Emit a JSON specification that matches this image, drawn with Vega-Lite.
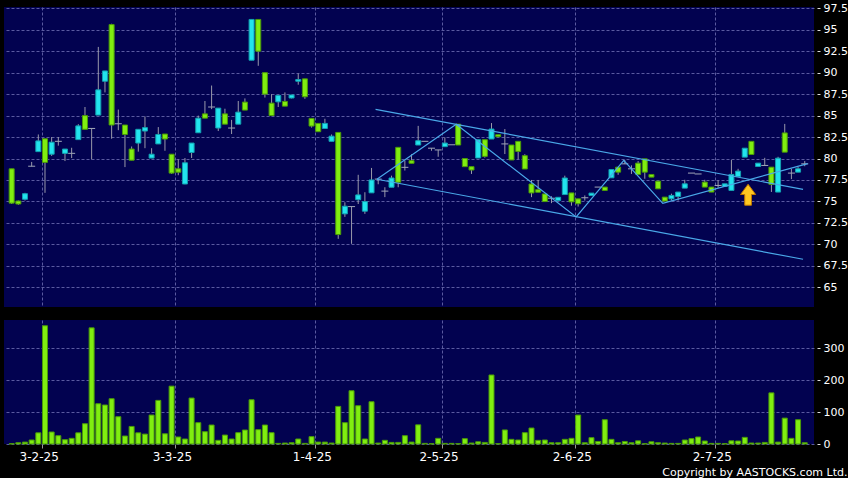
{
"$schema": "https://vega.github.io/schema/vega-lite/v6.json",
"background": "#000000",
"padding": {"left": 4, "top": 2, "right": 0, "bottom": 0},
"spacing": 13,
"config": {
  "view": {"fill": "#020250", "stroke": null},
  "font": "DejaVu Sans",
  "axis": {"labelFont": "DejaVu Sans", "labelColor": "#ffffff", "gridColor": "#5a5aa0", "gridDash": [3, 2], "gridWidth": 1, "domain": false, "labelOverlap": false}
},
"title": {"text": "Copyright by AASTOCKS.com Ltd.", "orient": "bottom", "anchor": "end", "fontSize": 11, "fontWeight": "normal", "color": "#ffffff", "font": "DejaVu Sans", "offset": 5},
"datasets": {
"px": [
{"i":0,"d":"2025-01-22","o":78.8,"h":78.8,"l":74.7,"c":74.8,"v":1},
{"i":1,"d":"2025-01-23","o":75.05,"h":75.1,"l":74.6,"c":74.7,"v":4},
{"i":2,"d":"2025-01-24","o":75.25,"h":76.0,"l":75.1,"c":75.9,"v":6},
{"i":3,"d":"2025-01-27","o":79.1,"h":79.6,"l":79.1,"c":79.1,"v":12.5},
{"i":4,"d":"2025-01-28","o":80.8,"h":82.8,"l":80.8,"c":82.05,"v":35},
{"i":5,"d":"2025-02-03","o":82.3,"h":82.3,"l":76.0,"c":79.55,"v":370},
{"i":6,"d":"2025-02-04","o":80.5,"h":82.5,"l":80.3,"c":81.9,"v":37.5},
{"i":7,"d":"2025-02-05","o":82.0,"h":82.5,"l":81.5,"c":82.0,"v":26},
{"i":8,"d":"2025-02-06","o":80.6,"h":81.1,"l":79.7,"c":81.1,"v":13.5},
{"i":9,"d":"2025-02-07","o":80.6,"h":81.25,"l":80.05,"c":80.6,"v":17.7},
{"i":10,"d":"2025-02-10","o":82.2,"h":84.0,"l":82.2,"c":83.8,"v":35},
{"i":11,"d":"2025-02-11","o":85.0,"h":86.0,"l":83.4,"c":83.4,"v":63.5},
{"i":12,"d":"2025-02-12","o":83.5,"h":83.5,"l":79.9,"c":83.5,"v":363.5},
{"i":13,"d":"2025-02-13","o":85.06,"h":93.0,"l":85.06,"c":88.0,"v":126},
{"i":14,"d":"2025-02-14","o":89.0,"h":90.2,"l":87.7,"c":90.2,"v":122},
{"i":15,"d":"2025-02-17","o":95.6,"h":95.7,"l":82.3,"c":83.9,"v":141.7},
{"i":16,"d":"2025-02-18","o":84.05,"h":85.7,"l":83.3,"c":84.05,"v":85.4},
{"i":17,"d":"2025-02-19","o":83.9,"h":83.9,"l":79.0,"c":82.8,"v":25},
{"i":18,"d":"2025-02-20","o":81.1,"h":81.4,"l":79.8,"c":79.8,"v":55},
{"i":19,"d":"2025-02-21","o":81.8,"h":83.4,"l":80.8,"c":83.4,"v":35},
{"i":20,"d":"2025-02-24","o":83.2,"h":84.9,"l":81.2,"c":83.6,"v":31},
{"i":21,"d":"2025-02-25","o":80.05,"h":81.2,"l":80.05,"c":80.5,"v":90.6},
{"i":22,"d":"2025-02-26","o":81.7,"h":83.66,"l":81.7,"c":82.8,"v":136.5},
{"i":23,"d":"2025-02-27","o":82.85,"h":82.85,"l":80.9,"c":82.27,"v":32},
{"i":24,"d":"2025-02-28","o":80.5,"h":80.5,"l":78.2,"c":78.3,"v":181},
{"i":25,"d":"2025-03-03","o":78.8,"h":79.9,"l":78.05,"c":78.4,"v":22},
{"i":26,"d":"2025-03-04","o":77.03,"h":80.06,"l":77.0,"c":79.5,"v":15.6},
{"i":27,"d":"2025-03-05","o":80.7,"h":81.8,"l":80.06,"c":81.8,"v":143.75},
{"i":28,"d":"2025-03-06","o":83.0,"h":85.0,"l":83.0,"c":84.7,"v":66.7},
{"i":29,"d":"2025-03-07","o":85.2,"h":86.7,"l":84.7,"c":84.7,"v":38.5},
{"i":30,"d":"2025-03-10","o":86.0,"h":88.5,"l":85.75,"c":86.0,"v":59.4},
{"i":31,"d":"2025-03-11","o":83.55,"h":85.87,"l":83.2,"c":85.87,"v":11.5},
{"i":32,"d":"2025-03-12","o":85.2,"h":85.8,"l":84.0,"c":84.0,"v":28},
{"i":33,"d":"2025-03-13","o":83.55,"h":84.5,"l":82.85,"c":83.55,"v":15.6},
{"i":34,"d":"2025-03-14","o":84.0,"h":86.7,"l":84.0,"c":85.4,"v":35.4},
{"i":35,"d":"2025-03-17","o":86.57,"h":87.0,"l":85.64,"c":85.64,"v":43.75},
{"i":36,"d":"2025-03-18","o":91.45,"h":96.2,"l":91.45,"c":96.2,"v":138.5},
{"i":37,"d":"2025-03-19","o":96.2,"h":96.2,"l":90.8,"c":92.5,"v":44.8},
{"i":38,"d":"2025-03-20","o":90.0,"h":90.0,"l":87.1,"c":87.5,"v":59.4},
{"i":39,"d":"2025-03-21","o":86.45,"h":87.5,"l":85.0,"c":85.0,"v":35.4},
{"i":40,"d":"2025-03-24","o":86.6,"h":87.35,"l":86.0,"c":87.35,"v":2},
{"i":41,"d":"2025-03-25","o":86.65,"h":87.7,"l":86.1,"c":86.1,"v":3},
{"i":42,"d":"2025-03-26","o":87.05,"h":87.4,"l":87.0,"c":87.4,"v":4},
{"i":43,"d":"2025-03-27","o":89.0,"h":89.9,"l":88.6,"c":89.2,"v":15.6},
{"i":44,"d":"2025-03-28","o":89.28,"h":89.28,"l":86.95,"c":87.19,"v":2},
{"i":45,"d":"2025-03-31","o":84.67,"h":84.67,"l":83.6,"c":83.78,"v":23},
{"i":46,"d":"2025-04-01","o":84.09,"h":84.09,"l":83.12,"c":83.12,"v":6},
{"i":47,"d":"2025-04-02","o":83.5,"h":84.63,"l":83.5,"c":84.09,"v":6},
{"i":48,"d":"2025-04-03","o":82.0,"h":82.8,"l":82.0,"c":82.6,"v":3},
{"i":49,"d":"2025-04-07","o":83.04,"h":83.04,"l":70.64,"c":71.14,"v":117.7},
{"i":50,"d":"2025-04-08","o":73.55,"h":74.9,"l":73.2,"c":74.44,"v":66.7},
{"i":51,"d":"2025-04-09","o":74.4,"h":74.4,"l":70.06,"c":74.4,"v":166.7},
{"i":52,"d":"2025-04-10","o":75.2,"h":78.1,"l":74.7,"c":75.76,"v":119.8},
{"i":53,"d":"2025-04-11","o":73.86,"h":76.07,"l":73.55,"c":74.98,"v":15.6},
{"i":54,"d":"2025-04-14","o":76.0,"h":78.9,"l":76.0,"c":77.5,"v":132.3},
{"i":55,"d":"2025-04-15","o":77.6,"h":77.6,"l":77.0,"c":77.6,"v":3},
{"i":56,"d":"2025-04-16","o":76.2,"h":76.65,"l":75.5,"c":76.2,"v":11.5},
{"i":57,"d":"2025-04-17","o":76.65,"h":78.0,"l":76.65,"c":77.73,"v":5},
{"i":58,"d":"2025-04-22","o":81.3,"h":81.3,"l":76.65,"c":77.23,"v":5},
{"i":59,"d":"2025-04-23","o":78.97,"h":79.75,"l":78.6,"c":78.97,"v":26},
{"i":60,"d":"2025-04-24","o":79.75,"h":80.5,"l":79.44,"c":79.44,"v":6},
{"i":61,"d":"2025-04-25","o":81.57,"h":83.8,"l":81.57,"c":82.07,"v":60},
{"i":62,"d":"2025-04-28","o":82.0,"h":82.0,"l":82.0,"c":82.0,"v":2},
{"i":63,"d":"2025-04-29","o":81.2,"h":81.2,"l":80.9,"c":81.2,"v":1},
{"i":64,"d":"2025-04-30","o":81.0,"h":81.0,"l":80.2,"c":81.0,"v":17.7},
{"i":65,"d":"2025-05-02","o":81.38,"h":82.46,"l":81.38,"c":81.8,"v":2},
{"i":66,"d":"2025-05-06","o":81.6,"h":81.6,"l":81.6,"c":81.6,"v":2},
{"i":67,"d":"2025-05-07","o":84.0,"h":84.0,"l":81.57,"c":81.57,"v":1},
{"i":68,"d":"2025-05-08","o":80.0,"h":80.0,"l":79.05,"c":79.05,"v":16.7},
{"i":69,"d":"2025-05-09","o":79.05,"h":79.05,"l":78.2,"c":78.66,"v":3},
{"i":70,"d":"2025-05-12","o":80.06,"h":82.19,"l":80.06,"c":82.19,"v":7},
{"i":71,"d":"2025-05-13","o":82.19,"h":82.19,"l":80.1,"c":80.25,"v":5},
{"i":72,"d":"2025-05-14","o":82.27,"h":84.13,"l":82.27,"c":83.43,"v":216},
{"i":73,"d":"2025-05-15","o":82.77,"h":82.77,"l":82.54,"c":82.54,"v":1},
{"i":74,"d":"2025-05-16","o":81.7,"h":83.43,"l":80.52,"c":81.7,"v":44},
{"i":75,"d":"2025-05-19","o":81.57,"h":81.57,"l":79.83,"c":79.83,"v":14.6},
{"i":76,"d":"2025-05-20","o":82.0,"h":82.0,"l":79.9,"c":80.83,"v":12.5},
{"i":77,"d":"2025-05-21","o":80.33,"h":80.5,"l":78.78,"c":78.78,"v":35.4},
{"i":78,"d":"2025-05-22","o":77.03,"h":77.5,"l":75.5,"c":75.99,"v":50},
{"i":79,"d":"2025-05-23","o":76.37,"h":77.5,"l":76.07,"c":76.07,"v":11.5},
{"i":80,"d":"2025-05-26","o":75.87,"h":75.87,"l":74.98,"c":74.98,"v":12.5},
{"i":81,"d":"2025-05-27","o":75.37,"h":75.6,"l":74.8,"c":75.37,"v":4},
{"i":82,"d":"2025-05-28","o":75.1,"h":75.48,"l":75.1,"c":75.48,"v":4},
{"i":83,"d":"2025-05-29","o":75.8,"h":78.0,"l":75.8,"c":77.73,"v":14.6},
{"i":84,"d":"2025-05-30","o":75.99,"h":75.99,"l":74.5,"c":74.95,"v":17.7},
{"i":85,"d":"2025-06-02","o":75.3,"h":75.3,"l":74.4,"c":74.73,"v":90.6},
{"i":86,"d":"2025-06-03","o":75.43,"h":75.7,"l":75.1,"c":75.43,"v":4},
{"i":87,"d":"2025-06-04","o":75.7,"h":75.97,"l":75.7,"c":75.97,"v":19.8},
{"i":88,"d":"2025-06-05","o":76.67,"h":76.67,"l":76.67,"c":76.67,"v":8},
{"i":89,"d":"2025-06-06","o":76.67,"h":76.67,"l":76.28,"c":76.28,"v":76},
{"i":90,"d":"2025-06-09","o":77.75,"h":78.72,"l":77.75,"c":78.72,"v":14.6},
{"i":91,"d":"2025-06-10","o":78.99,"h":78.99,"l":78.1,"c":78.41,"v":4},
{"i":92,"d":"2025-06-11","o":79.38,"h":79.85,"l":79.38,"c":79.38,"v":8},
{"i":93,"d":"2025-06-12","o":78.8,"h":79.2,"l":78.2,"c":78.8,"v":4},
{"i":94,"d":"2025-06-13","o":79.46,"h":79.7,"l":78.14,"c":78.14,"v":10},
{"i":95,"d":"2025-06-16","o":79.96,"h":79.96,"l":77.64,"c":78.41,"v":1},
{"i":96,"d":"2025-06-17","o":78.14,"h":78.14,"l":77.83,"c":77.83,"v":7},
{"i":97,"d":"2025-06-18","o":77.36,"h":77.36,"l":76.47,"c":76.47,"v":4},
{"i":98,"d":"2025-06-19","o":75.5,"h":75.5,"l":75.04,"c":75.04,"v":3},
{"i":99,"d":"2025-06-20","o":75.3,"h":75.9,"l":75.1,"c":75.7,"v":2},
{"i":100,"d":"2025-06-23","o":75.58,"h":76.09,"l":75.1,"c":76.09,"v":2},
{"i":101,"d":"2025-06-24","o":76.55,"h":77.52,"l":76.55,"c":77.05,"v":12.5},
{"i":102,"d":"2025-06-25","o":78.3,"h":78.3,"l":78.3,"c":78.3,"v":16.7},
{"i":103,"d":"2025-06-26","o":78.2,"h":78.2,"l":78.2,"c":78.2,"v":21.9},
{"i":104,"d":"2025-06-27","o":77.25,"h":77.52,"l":76.67,"c":76.67,"v":9.4},
{"i":105,"d":"2025-06-30","o":76.67,"h":76.67,"l":76.09,"c":76.09,"v":2},
{"i":106,"d":"2025-07-02","o":76.86,"h":77.45,"l":76.6,"c":76.86,"v":2},
{"i":107,"d":"2025-07-03","o":76.74,"h":77.05,"l":76.74,"c":77.05,"v":1},
{"i":108,"d":"2025-07-04","o":76.28,"h":79.84,"l":76.28,"c":78.14,"v":10},
{"i":109,"d":"2025-07-07","o":77.9,"h":78.8,"l":77.9,"c":78.53,"v":9.4},
{"i":110,"d":"2025-07-08","o":80.16,"h":81.2,"l":80.16,"c":81.2,"v":20.8},
{"i":111,"d":"2025-07-09","o":82.0,"h":82.0,"l":80.47,"c":80.47,"v":3},
{"i":112,"d":"2025-07-10","o":79.07,"h":79.46,"l":79.07,"c":79.46,"v":3},
{"i":113,"d":"2025-07-11","o":79.19,"h":80.08,"l":79.19,"c":79.19,"v":5},
{"i":114,"d":"2025-07-14","o":78.99,"h":78.99,"l":76.1,"c":76.98,"v":160},
{"i":115,"d":"2025-07-15","o":76.09,"h":80.2,"l":76.09,"c":80.04,"v":6},
{"i":116,"d":"2025-07-16","o":82.98,"h":84.03,"l":80.74,"c":80.74,"v":81},
{"i":117,"d":"2025-07-17","o":78.3,"h":78.8,"l":77.6,"c":78.3,"v":17.7},
{"i":118,"d":"2025-07-18","o":78.41,"h":79.0,"l":78.41,"c":78.8,"v":76},
{"i":119,"d":"2025-07-21","o":79.38,"h":79.7,"l":79.1,"c":79.38,"v":4}
],
"tl": [
{"g":"upper","i":54.6,"p":85.73},{"g":"upper","i":118.75,"p":76.41},
{"g":"lower","i":54.8,"p":77.58},{"g":"lower","i":118.75,"p":68.26},
{"g":"zig","i":54.8,"p":77.58},{"g":"zig","i":66.7,"p":83.98},{"g":"zig","i":84.7,"p":73.19},{"g":"zig","i":91.85,"p":79.79},{"g":"zig","i":97.7,"p":74.78},{"g":"zig","i":119.45,"p":79.4}
],
"ar": [{"i":110.5,"p":75.78}]
},
"vconcat": [
{
"width": 810, "height": 300,
"layer": [
{"data": {"name": "px"}, "mark": {"type": "rule", "color": "#9a9aaa", "strokeWidth": 1},
 "encoding": {
  "x": {"field": "i", "type": "quantitative", "title": null, "scale": {"domain": [-0.4, 119.64], "nice": false, "zero": false},
        "axis": {"values": [4.5, 24.5, 45.5, 64.5, 84.5, 105.5], "grid": true, "labels": false, "ticks": false, "domain": false, "title": null}},
  "y": {"field": "l", "type": "quantitative", "title": null, "scale": {"domain": [62.7, 97.65], "nice": false, "zero": false},
        "axis": {"orient": "right", "values": [65, 67.5, 70, 72.5, 75, 77.5, 80, 82.5, 85, 87.5, 90, 92.5, 95, 97.5], "labelExpr": "format(datum.value, '~g')", "labelOverlap": false, "labelBound": false, "grid": true, "tickSize": 3, "offset": 3, "labelPadding": 3, "tickColor": "#dddddd", "labelFontSize": 11, "title": null}},
  "y2": {"field": "h"}
 }},
{"data": {"name": "px"}, "transform": [{"filter": "datum.o != datum.c"}], "mark": {"type": "bar", "size": 5, "strokeWidth": 1},
 "encoding": {
  "x": {"field": "i", "type": "quantitative", "title": null, "scale": {"domain": [-0.4, 119.64], "nice": false, "zero": false},
        "axis": {"values": [4.5, 24.5, 45.5, 64.5, 84.5, 105.5], "grid": true, "labels": false, "ticks": false, "domain": false, "title": null}},
  "y": {"field": "o", "type": "quantitative", "title": null, "scale": {"domain": [62.7, 97.65], "nice": false, "zero": false},
        "axis": {"orient": "right", "values": [65, 67.5, 70, 72.5, 75, 77.5, 80, 82.5, 85, 87.5, 90, 92.5, 95, 97.5], "labelExpr": "format(datum.value, '~g')", "labelOverlap": false, "labelBound": false, "grid": true, "tickSize": 3, "offset": 3, "labelPadding": 3, "tickColor": "#dddddd", "labelFontSize": 11, "title": null}},
  "y2": {"field": "c"},
  "fill": {"condition": {"test": "datum.c > datum.o", "value": "#22e4ee"}, "value": "#80ee10"},
  "stroke": {"condition": {"test": "datum.c > datum.o", "value": "#12a0b0"}, "value": "#4a9a08"}
 }},
{"data": {"name": "px"}, "transform": [{"filter": "datum.o == datum.c"}], "mark": {"type": "point", "shape": "M-1,-0.15L1,-0.15L1,0.15L-1,0.15Z", "size": 49, "filled": true, "color": "#9aa0b4", "opacity": 1},
 "encoding": {
  "x": {"field": "i", "type": "quantitative", "title": null, "scale": {"domain": [-0.4, 119.64], "nice": false, "zero": false},
        "axis": {"values": [4.5, 24.5, 45.5, 64.5, 84.5, 105.5], "grid": true, "labels": false, "ticks": false, "domain": false, "title": null}},
  "y": {"field": "o", "type": "quantitative", "title": null, "scale": {"domain": [62.7, 97.65], "nice": false, "zero": false},
        "axis": {"orient": "right", "values": [65, 67.5, 70, 72.5, 75, 77.5, 80, 82.5, 85, 87.5, 90, 92.5, 95, 97.5], "labelExpr": "format(datum.value, '~g')", "labelOverlap": false, "labelBound": false, "grid": true, "tickSize": 3, "offset": 3, "labelPadding": 3, "tickColor": "#dddddd", "labelFontSize": 11, "title": null}}
 }},
{"data": {"name": "tl"}, "mark": {"type": "line", "color": "#4aa8e8", "strokeWidth": 1.2},
 "encoding": {
  "x": {"field": "i", "type": "quantitative", "title": null, "scale": {"domain": [-0.4, 119.64], "nice": false, "zero": false},
        "axis": {"values": [4.5, 24.5, 45.5, 64.5, 84.5, 105.5], "grid": true, "labels": false, "ticks": false, "domain": false, "title": null}},
  "y": {"field": "p", "type": "quantitative", "title": null, "scale": {"domain": [62.7, 97.65], "nice": false, "zero": false},
        "axis": {"orient": "right", "values": [65, 67.5, 70, 72.5, 75, 77.5, 80, 82.5, 85, 87.5, 90, 92.5, 95, 97.5], "labelExpr": "format(datum.value, '~g')", "labelOverlap": false, "labelBound": false, "grid": true, "tickSize": 3, "offset": 3, "labelPadding": 3, "tickColor": "#dddddd", "labelFontSize": 11, "title": null}},
  "detail": {"field": "g"}
 }},
{"data": {"name": "ar"}, "mark": {"type": "point", "shape": "M0,-1L0.72,-0.02L0.32,-0.02L0.32,1L-0.32,1L-0.32,-0.02L-0.72,-0.02Z", "size": 441, "filled": true, "fill": "#ffc820", "stroke": "#c07800", "strokeWidth": 1, "opacity": 1},
 "encoding": {
  "x": {"field": "i", "type": "quantitative", "title": null, "scale": {"domain": [-0.4, 119.64], "nice": false, "zero": false},
        "axis": {"values": [4.5, 24.5, 45.5, 64.5, 84.5, 105.5], "grid": true, "labels": false, "ticks": false, "domain": false, "title": null}},
  "y": {"field": "p", "type": "quantitative", "title": null, "scale": {"domain": [62.7, 97.65], "nice": false, "zero": false},
        "axis": {"orient": "right", "values": [65, 67.5, 70, 72.5, 75, 77.5, 80, 82.5, 85, 87.5, 90, 92.5, 95, 97.5], "labelExpr": "format(datum.value, '~g')", "labelOverlap": false, "labelBound": false, "grid": true, "tickSize": 3, "offset": 3, "labelPadding": 3, "tickColor": "#dddddd", "labelFontSize": 11, "title": null}}
 }}
]
},
{
"width": 810, "height": 124,
"data": {"name": "px"},
"mark": {"type": "bar", "size": 5, "fill": "#80ee10", "stroke": "#4a9a08", "strokeWidth": 1},
"encoding": {
  "x": {"field": "i", "type": "quantitative", "title": null, "scale": {"domain": [-0.4, 119.64], "nice": false, "zero": false},
        "axis": {"values": [4.5, 24.5, 45.5, 64.5, 84.5, 105.5], "grid": true, "labelExpr": "datum.value == 4.5 ? '3-2-25' : datum.value == 24.5 ? '3-3-25' : datum.value == 45.5 ? '1-4-25' : datum.value == 64.5 ? '2-5-25' : datum.value == 84.5 ? '2-6-25' : '2-7-25'", "tickSize": 4, "tickColor": "#999999", "labelFontSize": 12, "labelPadding": 3, "labelOffset": -3, "domain": false, "title": null}},
  "y": {"field": "v", "type": "quantitative", "title": null, "scale": {"domain": [0, 388], "nice": false},
        "axis": {"orient": "right", "values": [0, 100, 200, 300], "labelOverlap": false, "grid": true, "tickSize": 3, "offset": 3, "labelPadding": 3, "tickColor": "#dddddd", "labelFontSize": 11, "title": null}}
}
}
]
}
